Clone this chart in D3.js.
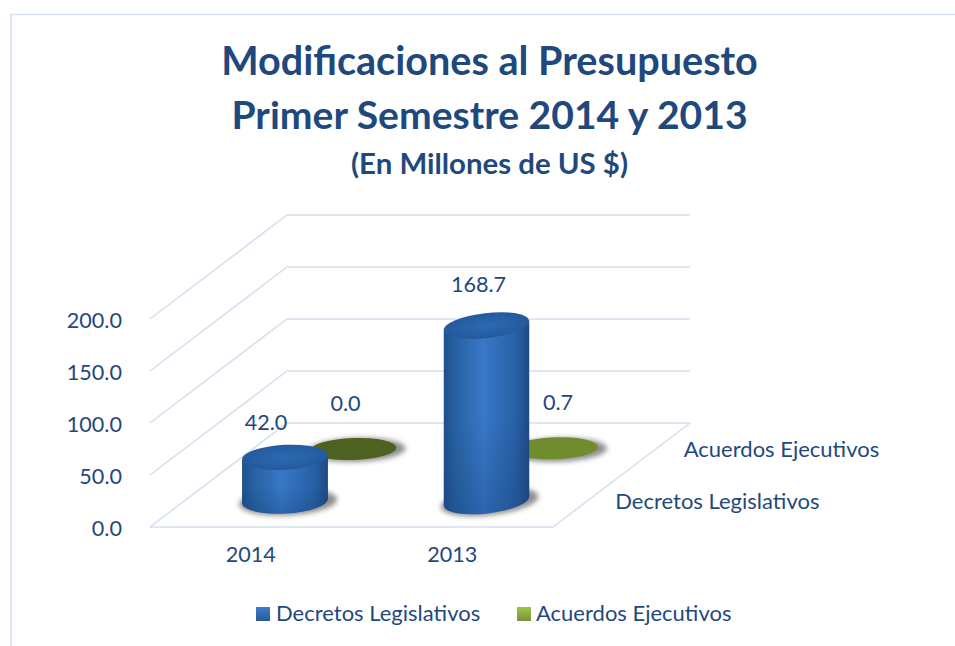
<!DOCTYPE html>
<html><head><meta charset="utf-8">
<script src="https://cdn.jsdelivr.net/npm/d3@7"></script>
<style>html,body{margin:0;padding:0;background:#fff}svg{display:block}text{font-family:Lato,"Open Sans",sans-serif;fill:#1f497d}</style>
</head><body><div id="c"></div>
<script>
const titleLines = ["Modificaciones al Presupuesto","Primer Semestre 2014 y 2013","(En Millones de US $)"];
const categories = ["2014","2013"];
const seriesNames = ["Decretos Legislativos","Acuerdos Ejecutivos"];
const decretos = [42.0,168.7];
const acuerdos = [0.0,0.7];
const yTicks = [0,50,100,150,200];

const W=955,H=646,FS=21.6;
const svg=d3.select("#c").append("svg").attr("width",W).attr("height",H);
const defs=svg.append("defs");
const fl={x0:150,x1:553,y:527,dx:137,dy:-104};
const x=d3.scaleBand().domain(categories).range([fl.x0,fl.x1]);
const y=d3.scaleLinear().domain([0,200]).range([fl.y,fl.y-208]);
const depth=d3.scaleBand().domain(seriesNames).range([0,1]);

// frame
svg.append("path").attr("d",`M11,${H}V14.5H${W}`).attr("fill","none").attr("stroke","#d6e2f5").attr("stroke-width",1.6);

// gradients
const sg=defs.append("linearGradient").attr("id","side");
[[0,"#1f4f8e"],[.12,"#27609f"],[.46,"#3878c8"],[.85,"#285fa3"],[1,"#1d4a85"]].forEach(s=>sg.append("stop").attr("offset",s[0]).attr("stop-color",s[1]));
const sh=defs.append("linearGradient").attr("id","sideShade").attr("x2",0).attr("y2",1);
sh.append("stop").attr("offset",.5).attr("stop-color","#123a70").attr("stop-opacity",0);
sh.append("stop").attr("offset",1).attr("stop-color","#123a70").attr("stop-opacity",.3);
const lg=(id,a,b)=>{const g=defs.append("linearGradient").attr("id",id).attr("x2",0).attr("y2",1);
 g.append("stop").attr("offset",0).attr("stop-color",a);g.append("stop").attr("offset",1).attr("stop-color",b);};
lg("swB","#3d7dcc","#2a5a96");lg("swG","#9ec544","#76923c");
const rg=defs.append("radialGradient").attr("id","top");
rg.append("stop").attr("offset",0).attr("stop-color","#2b69b2");rg.append("stop").attr("offset",1).attr("stop-color","#245a9c");
defs.append("filter").attr("id","blur").attr("x","-30%").attr("y","-50%").attr("width","160%").attr("height","200%")
 .append("feGaussianBlur").attr("stdDeviation",2.4);

// walls and floor grid
const grid=svg.append("g").attr("fill","none").attr("stroke","#d5dfee").attr("stroke-width",1.5);
yTicks.forEach(t=>{const Y=y(t);
 grid.append("path").attr("d",`M${fl.x0},${Y}L${fl.x0+fl.dx},${Y+fl.dy}H${fl.x1+fl.dx}`);});
grid.append("path").attr("d",`M${fl.x0},${fl.y}H${fl.x1}L${fl.x1+fl.dx},${fl.y+fl.dy}`);

// axes
const axL=svg.append("g").attr("transform",`translate(${fl.x0-26},1)`)
 .call(d3.axisLeft(y).tickValues(yTicks).tickFormat(d3.format(".1f")).tickSize(0));
const axB=svg.append("g").attr("transform",`translate(0,${fl.y+21})`)
 .call(d3.axisBottom(x).tickSize(0));
[axL,axB].forEach(a=>{a.select(".domain").remove();a.selectAll("text").style("font-family","Lato").style("font-size",FS+"px").attr("fill","#1f497d");});
axL.selectAll("text").attr("x",-2).attr("dy","0.36em");
axB.selectAll("text").attr("y",0).attr("dy","0.66em");

// depth axis labels
seriesNames.forEach(s=>{const d=depth(s)+depth.bandwidth()/2;
 svg.append("text").attr("x",fl.x1+fl.dx*d+28).attr("y",fl.y+fl.dy*d).attr("dy",".36em")
  .attr("font-size",FS+.4).text(s);});

// cylinders
const rx=43, base=0;
const flatColors=["#4f6120","#6f8c2f"];
const tilt={"2014":-3,"2013":-6.5};
const bars=svg.append("g");
[{name:seriesNames[1],vals:acuerdos},{name:seriesNames[0],vals:decretos}].forEach(se=>{
 const d=depth(se.name)+depth.bandwidth()/2;
 se.vals.forEach((v,i)=>{
  const c=categories[i], cx=x(c)+x.bandwidth()/2+fl.dx*d, yb=fl.y+fl.dy*d+base;
  const h=fl.y-y(v), yt=yb-h, isFlat=h<5, t=isFlat?-2:tilt[c], ry=isFlat?11:12.5, a=t*Math.PI/180;
  const ex=rx*Math.cos(a), ey=rx*Math.sin(a);
  bars.append("ellipse").attr("cx",cx+3).attr("cy",yb+1).attr("rx",rx+6).attr("ry",ry+1)
   .attr("transform",`rotate(${t} ${cx} ${yb})`).attr("fill","#444").attr("opacity",.6).attr("filter","url(#blur)");
  if(!isFlat){
   const p=`M${cx-ex},${yt-ey}L${cx-ex},${yb-ey}A${rx},${ry} ${t} 0 0 ${cx+ex},${yb+ey}L${cx+ex},${yt+ey}Z`;
   bars.append("path").attr("fill","url(#side)").attr("d",p);
   bars.append("path").attr("fill","url(#sideShade)").attr("d",p);
  }
  bars.append("ellipse").attr("cx",cx).attr("cy",yt).attr("rx",rx).attr("ry",ry)
   .attr("transform",`rotate(${t} ${cx} ${yt})`).attr("fill",isFlat?flatColors[i]:"url(#top)");
 });
});

// data labels
const labelShift={"Decretos Legislativos":[[-19,-35],[-8,-41]],"Acuerdos Ejecutivos":[[-8,-46],[3,-46]]};
[{name:seriesNames[0],vals:decretos},{name:seriesNames[1],vals:acuerdos}].forEach(se=>{
 const d=depth(se.name)+depth.bandwidth()/2;
 se.vals.forEach((v,i)=>{
  const c=categories[i], cx=x(c)+x.bandwidth()/2+fl.dx*d, yt=fl.y+fl.dy*d+base-(fl.y-y(v));
  svg.append("text").attr("x",cx+labelShift[se.name][i][0]).attr("y",yt+labelShift[se.name][i][1])
   .attr("text-anchor","middle").attr("dy",".36em").attr("font-size",FS).text(d3.format(".1f")(v));
 });
});

// title
const tp=[[61,39.6],[115,39.1],[163,29.4]];
titleLines.forEach((t,i)=>svg.append("text").attr("x",489.5).attr("y",tp[i][0]).attr("dy",".36em")
 .attr("text-anchor","middle").attr("font-size",tp[i][1]).attr("font-weight",700).text(t));

// legend
const lgX=[[256,276],[517,536]];
seriesNames.forEach((s,i)=>{
 svg.append("rect").attr("x",lgX[i][0]).attr("y",607).attr("width",14).attr("height",14).attr("fill",i?"url(#swG)":"url(#swB)");
 svg.append("text").attr("x",lgX[i][1]).attr("y",613.5).attr("dy",".36em").attr("font-size",FS+.4).text(s);
});
</script></body></html>
